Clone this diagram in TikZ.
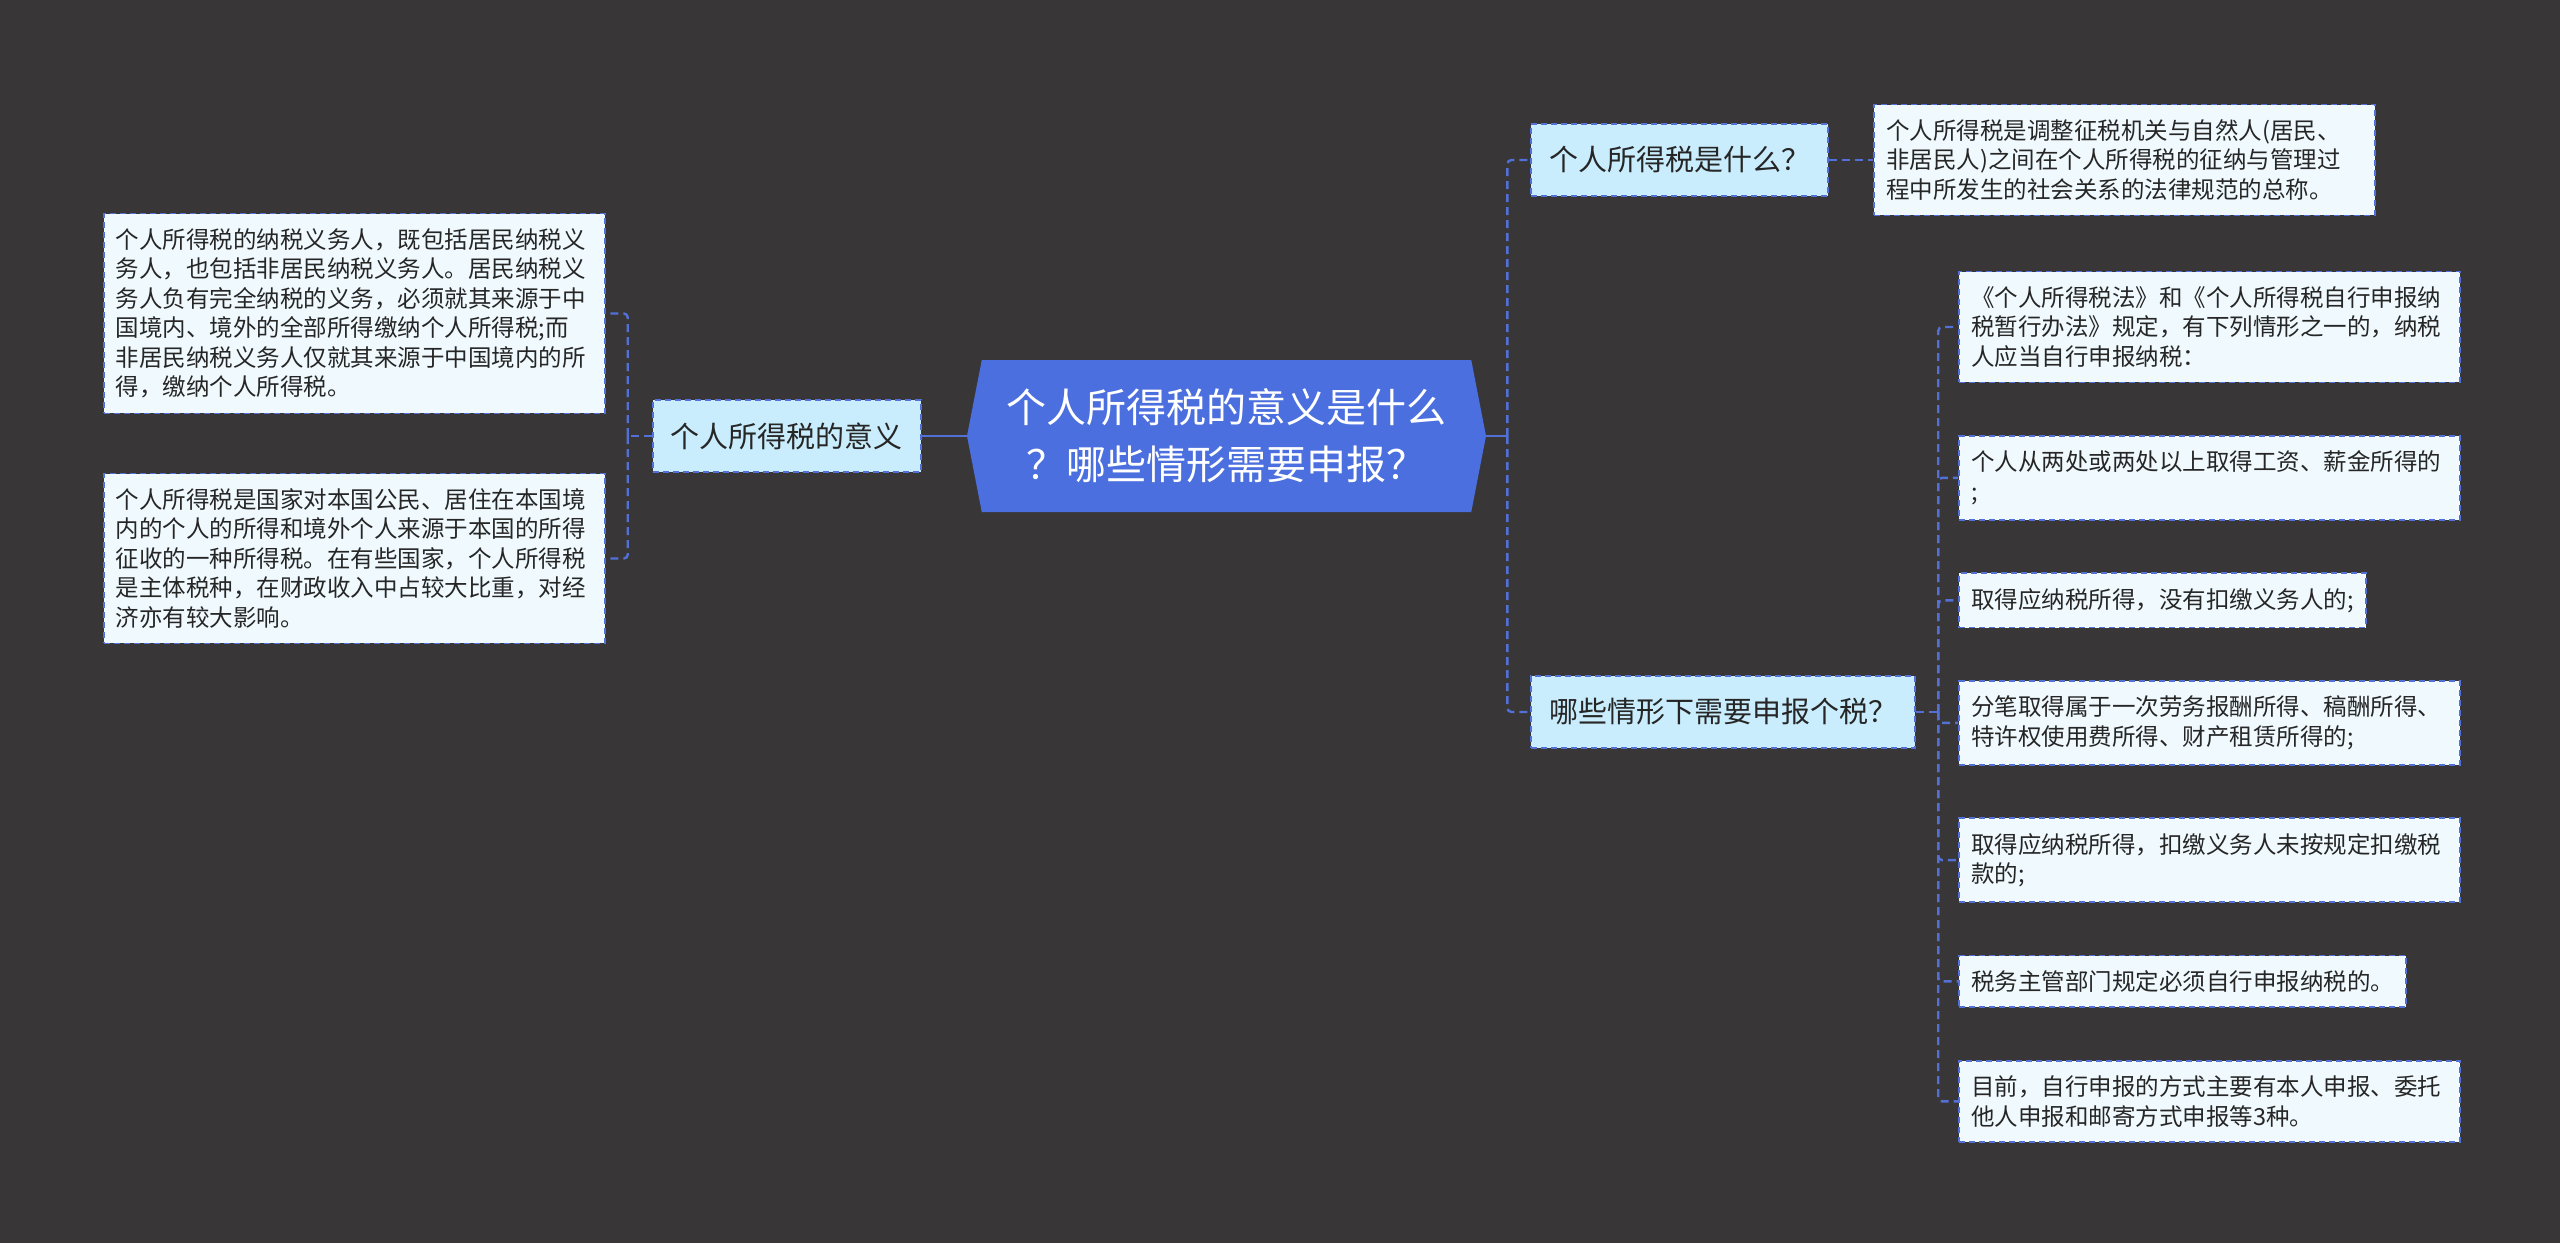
\documentclass[tikz,border=0pt]{standalone}
\usepackage{fontspec}
\setmainfont{Noto Sans CJK SC}
\usetikzlibrary{positioning,shapes.symbols}
\definecolor{bgdark}{RGB}{56,54,55}
\definecolor{rootblue}{RGB}{75,111,222}
\definecolor{linkblue}{RGB}{82,112,214}
\definecolor{subfill}{RGB}{201,237,252}
\definecolor{leaffill}{RGB}{240,250,254}
\definecolor{inktext}{RGB}{38,38,38}
\begin{document}
\begin{tikzpicture}[
    x=0.5pt, y=-0.5pt,
    rootnode/.style={signal, signal to=west and east, signal pointer angle=158,
      fill=rootblue, text=white, align=center, inner sep=0pt,
      minimum width=259.5pt, minimum height=76pt,
      font=\fontsize{20}{28.5}\selectfont},
    subnode/.style={draw=linkblue, dash pattern=on 3pt off 2pt, line width=0.9pt,
      fill=subfill, text=inktext, minimum height=36pt, inner xsep=9pt,
      font=\fontsize{14.5}{17}\selectfont},
    leafnode/.style={draw=linkblue, dash pattern=on 3pt off 2pt, line width=0.9pt,
      fill=leaffill, text=inktext, align=left, inner xsep=6pt, inner ysep=7.5pt,
      font=\fontsize{11.75}{14.75}\selectfont},
    leafwide/.style={leafnode, text width=238.5pt},
    solidlink/.style={draw=linkblue, line width=1.2pt},
    dashlink/.style={draw=linkblue, line width=1.2pt, dash pattern=on 4pt off 2.5pt,
      rounded corners=2pt}
  ]
  \fill[bgdark] (0,0) rectangle (2560,1243);

  \node[rootnode] (root) at (1226.5,436) {个人所得税的意义是什么\\？哪些情形需要申报？};

  % left side
  \node[subnode, left=22.5pt of root] (meaning) {个人所得税的意义};
  \node[leafwide, left=23pt of meaning, yshift=61.25pt] (payer)
    {个人所得税的纳税义务人，既包括居民纳税义\\务人，也包括非居民纳税义务人。居民纳税义\\务人负有完全纳税的义务，必须就其来源于中\\国境内、境外的全部所得缴纳个人所得税;而\\非居民纳税义务人仅就其来源于中国境内的所\\得，缴纳个人所得税。};
  \node[leafwide, left=23pt of meaning, yshift=-61.25pt] (define)
    {个人所得税是国家对本国公民、居住在本国境\\内的个人的所得和境外个人来源于本国的所得\\征收的一种所得税。在有些国家，个人所得税\\是主体税种，在财政收入中占较大比重，对经\\济亦有较大影响。};

  % right side
  \node[subnode, right=22pt of root, yshift=138pt] (what) {个人所得税是什么？};
  \node[subnode, right=22pt of root, yshift=-138pt] (when) {哪些情形下需要申报个税？};
  \node[leafwide, right=22pt of what] (law)
    {个人所得税是调整征税机关与自然人(居民、\\非居民人)之间在个人所得税的征纳与管理过\\程中所发生的社会关系的法律规范的总称。};

  \node[leafwide, right=21pt of when, yshift=192.5pt] (c1)
    {《个人所得税法》和《个人所得税自行申报纳\\税暂行办法》规定，有下列情形之一的，纳税\\人应当自行申报纳税：};
  \node[leafwide, below=25.8pt of c1.south west, anchor=north west] (c2)
    {个人从两处或两处以上取得工资、薪金所得的\\;};
  \node[leafnode, below=25.8pt of c2.south west, anchor=north west] (c3)
    {取得应纳税所得，没有扣缴义务人的;};
  \node[leafwide, below=25.8pt of c3.south west, anchor=north west] (c4)
    {分笔取得属于一次劳务报酬所得、稿酬所得、\\特许权使用费所得、财产租赁所得的;};
  \node[leafwide, below=25.8pt of c4.south west, anchor=north west] (c5)
    {取得应纳税所得，扣缴义务人未按规定扣缴税\\款的;};
  \node[leafnode, below=25.8pt of c5.south west, anchor=north west] (c6)
    {税务主管部门规定必须自行申报纳税的。};
  \node[leafwide, below=25.8pt of c6.south west, anchor=north west] (c7)
    {目前，自行申报的方式主要有本人申报、委托\\他人申报和邮寄方式申报等3种。};

  % connectors
  \draw[solidlink] (root.west) -- (meaning.east);
  \coordinate (lj) at ([xshift=-12pt]meaning.west);
  \draw[dashlink] (meaning.west) -- (lj);
  \draw[dashlink] (lj) |- (payer.east);
  \draw[dashlink] (lj) |- (define.east);

  \coordinate (rj) at ([xshift=10.5pt]root.east);
  \draw[solidlink] (root.east) -- (rj);
  \draw[dashlink] (rj) |- (what.west);
  \draw[dashlink] (rj) |- (when.west);
  \draw[dashlink] (what.east) -- (law.west);

  \coordinate (cj) at ([xshift=11pt]when.east);
  \draw[dashlink] (when.east) -- (cj);
  \draw[dashlink] (cj) |- (c1.west);
  \draw[dashlink] (cj) |- (c2.west);
  \draw[dashlink] (cj) |- (c3.west);
  \draw[dashlink] (cj) |- (c4.west);
  \draw[dashlink] (cj) |- (c5.west);
  \draw[dashlink] (cj) |- (c6.west);
  \draw[dashlink] (cj) |- (c7.west);
\end{tikzpicture}
\end{document}
